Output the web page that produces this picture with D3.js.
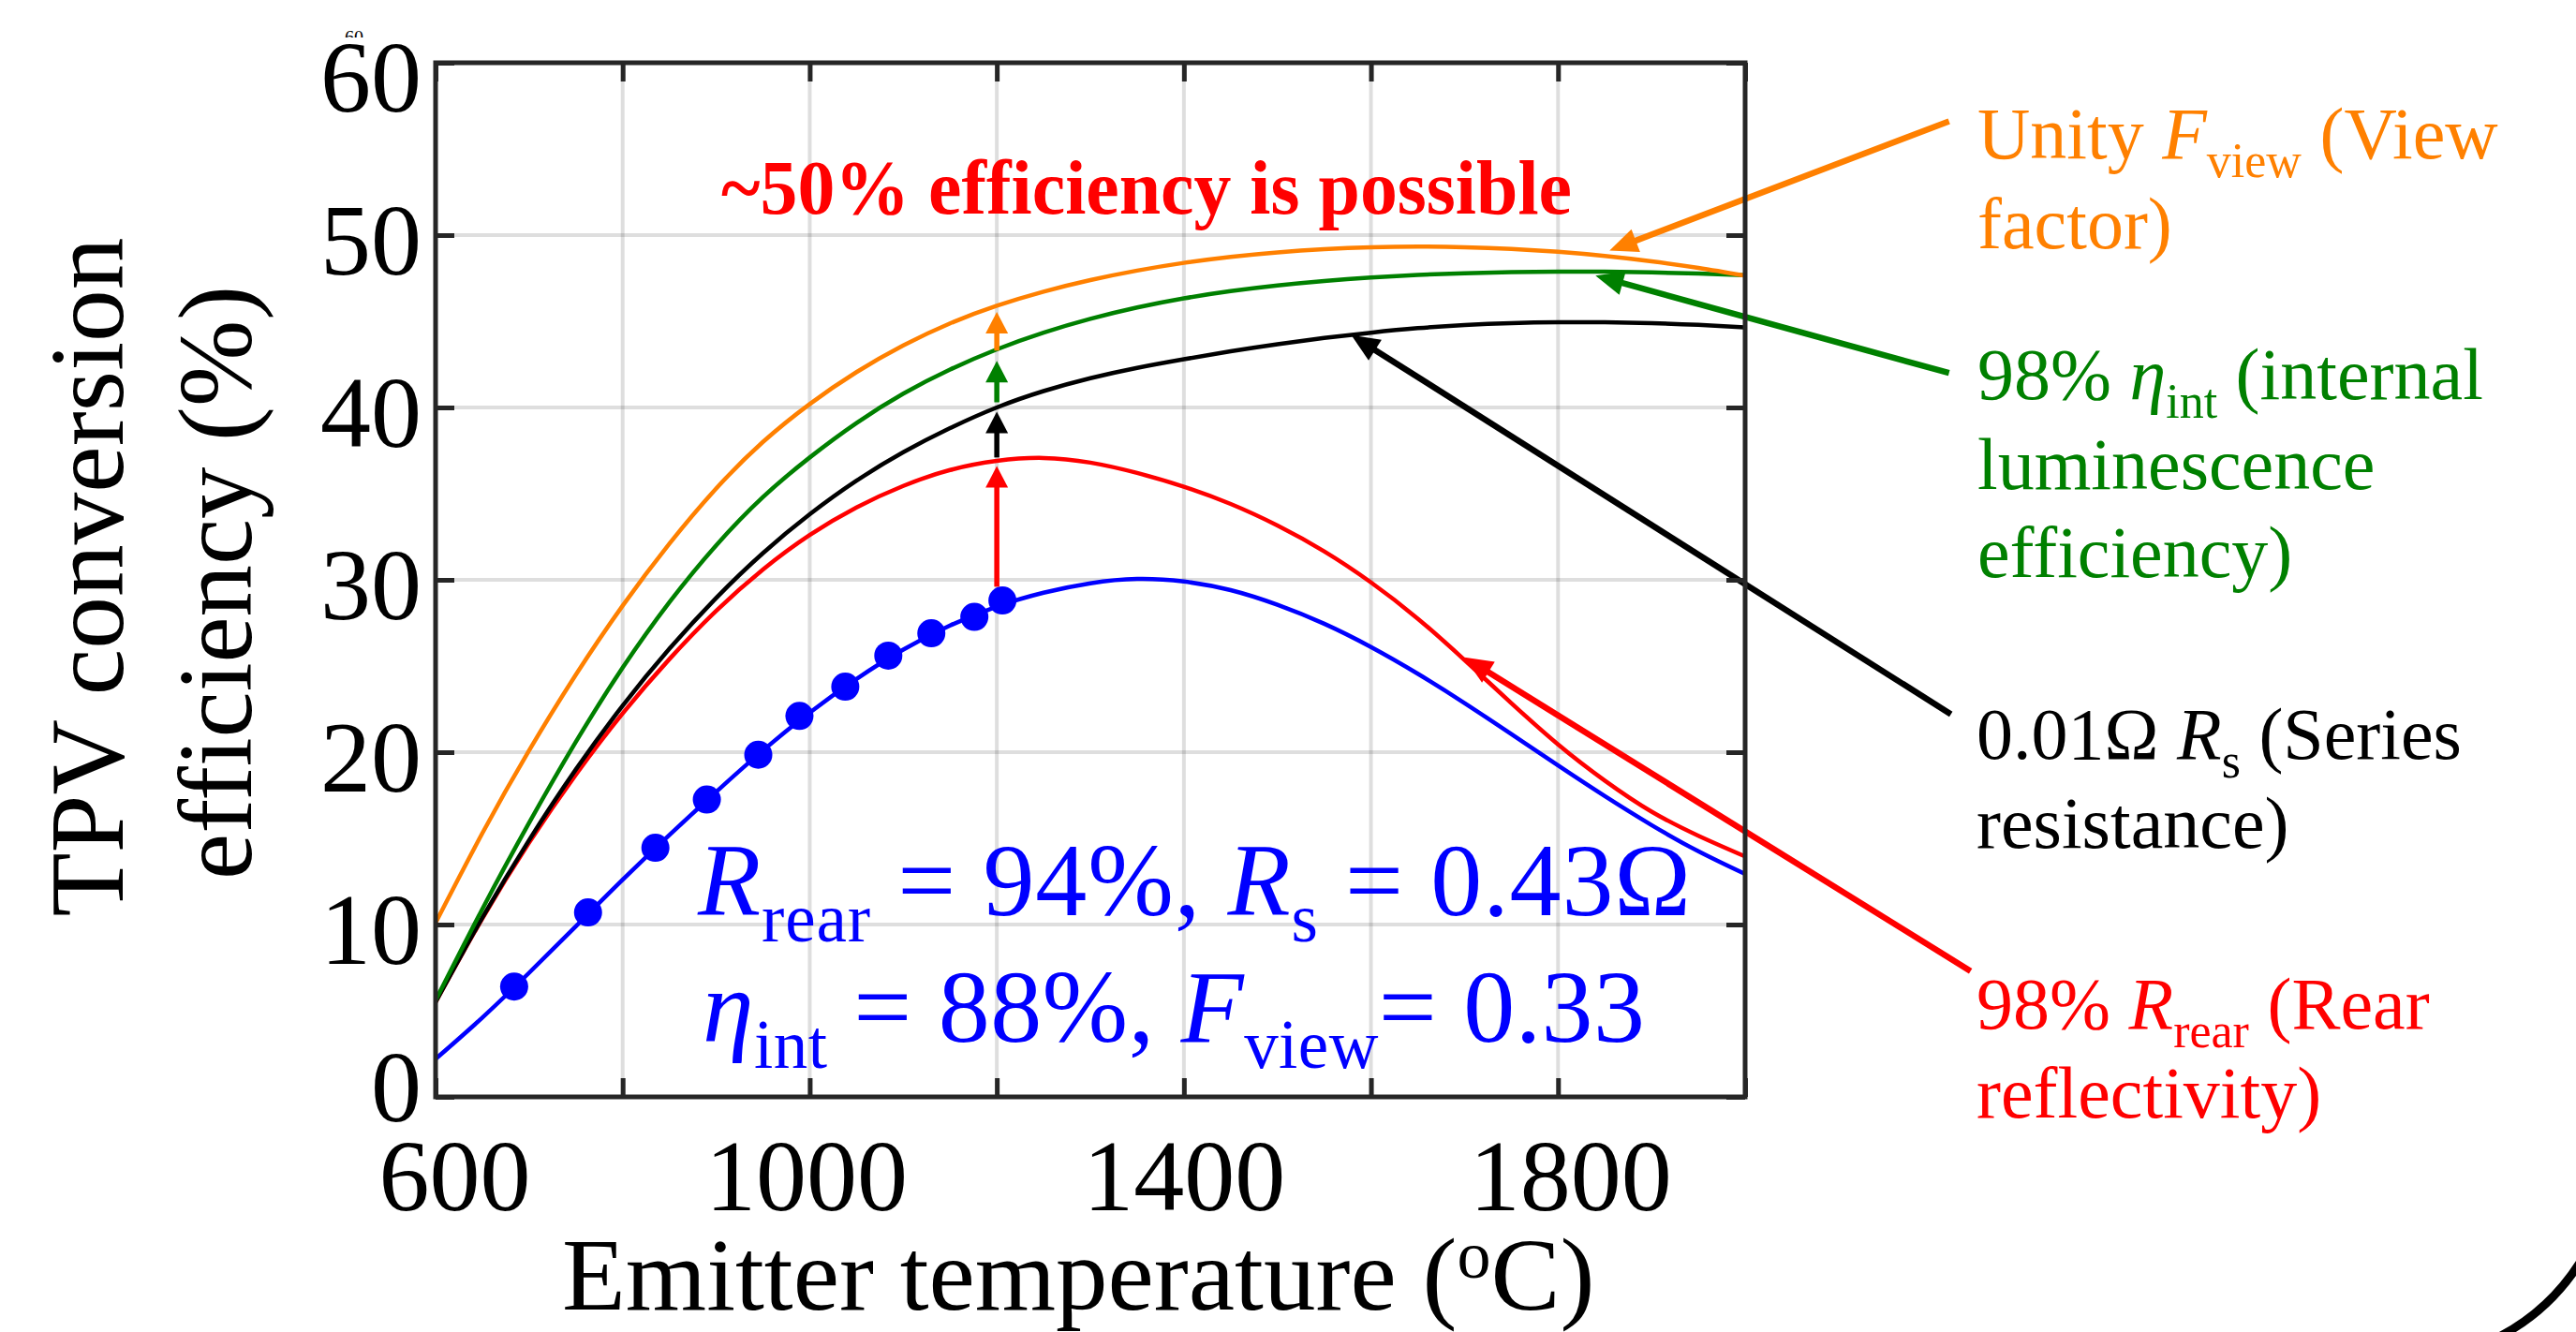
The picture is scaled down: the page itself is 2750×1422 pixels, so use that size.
<!DOCTYPE html>
<html>
<head>
<meta charset="utf-8">
<script src="https://cdn.jsdelivr.net/npm/d3@7"></script>
<style>
  html, body { margin: 0; padding: 0; background: #fff; }
  svg text { font-family: "Liberation Serif", "Times New Roman", serif; white-space: pre; }
</style>
</head>
<body>
<svg id="chart"></svg>
<script>
// ---- constants
const svgWidth = 2750, svgHeight = 1422;
const plot = {left: 465, right: 1863, top: 67, bottom: 1171};

const colors = {orange: "#ff8000", green: "#008000", black: "#000000", red: "#ff0000", blue: "#0000ff"};

// ---- data
const temps = [600, 650, 700, 750, 800, 850, 900, 950, 1000, 1050, 1100, 1150, 1200, 1250, 1300,
               1350, 1400, 1450, 1500, 1550, 1600, 1650, 1700, 1750, 1800, 1850, 1900, 1950, 2000];

const unityFview = [10.1, 15.3, 20.1, 24.5, 28.5, 32.1, 35.3, 38.0, 40.2, 42.05, 43.6, 44.88, 45.9, 46.72, 47.39,
                    47.94, 48.39, 48.74, 49.0, 49.18, 49.29, 49.33, 49.3, 49.2, 49.03, 48.79, 48.48, 48.1, 47.65];
const etaInt98   = [5.6, 10.9, 15.9, 20.6, 24.9, 28.7, 32.0, 34.8, 37.1, 39.1, 40.8, 42.2, 43.37, 44.34, 45.14,
                    45.8, 46.33, 46.75, 47.08, 47.34, 47.54, 47.69, 47.79, 47.85, 47.88, 47.88, 47.84, 47.77, 47.67];
const rs001      = [5.5, 10.4, 14.9, 19.0, 22.7, 26.0, 28.95, 31.55, 33.8, 35.75, 37.4, 38.8, 40.0, 40.95, 41.7,
                    42.3, 42.8, 43.26, 43.67, 44.03, 44.34, 44.6, 44.78, 44.89, 44.94, 44.94, 44.89, 44.79, 44.64];
const rRear98    = [5.5, 10.35, 14.75, 18.7, 22.25, 25.4, 28.2, 30.6, 32.6, 34.2, 35.45, 36.37, 36.9, 37.07, 36.8,
                    36.2, 35.4, 34.4, 33.15, 31.65, 29.85, 27.75, 25.35, 22.85, 20.45, 18.35, 16.55, 15.15, 13.95];
const baseline   = [2.2, 4.6, 7.2, 9.9, 12.6, 15.2, 17.7, 20.1, 22.3, 24.25, 25.95, 27.35, 28.45, 29.25, 29.8,
                    30.05, 29.9, 29.4, 28.55, 27.45, 26.1, 24.55, 22.85, 21.05, 19.23, 17.45, 15.77, 14.25, 12.93];

// measured points on the baseline device
const dotTemps = [684, 763, 835, 890, 945, 989, 1038, 1084, 1130, 1176, 1206];
const dotEff   = [6.4, 10.7, 14.45, 17.25, 19.85, 22.1, 23.8, 25.6, 26.9, 27.85, 28.8];

// step-up arrows at 1200 C: [from, to] in %
const stepTemp = 1200;
const stepFrom = [29.6, 37.1, 40.3, 43.3];
const stepTo   = [36.6, 39.75, 42.7, 45.55];
const stepColors = ["red", "black", "green", "orange"];

// callout arrows (temperature, efficiency), from label to curve
const calloutFrom = [[2218, 56.6], [2218, 42.0], [2220, 22.2], [2241, 7.3]];
const calloutTo   = [[1855, 49.1], [1840, 47.65], [1579, 44.2], [1700, 25.5]];
const calloutColors = ["orange", "green", "black", "red"];

const xTicks = [600, 800, 1000, 1200, 1400, 1600, 1800, 2000];
const xLabels = [600, 1000, 1400, 1800];
const yTicks = [0, 10, 20, 30, 40, 50, 60];

// ---- scales
const x = d3.scaleLinear().domain([600, 2000]).range([plot.left, plot.right]);
const y = d3.scaleLinear().domain([0, 60]).range([plot.bottom, plot.top]);

const svg = d3.select("#chart").attr("width", svgWidth).attr("height", svgHeight);

// grid
const grid = svg.append("g").attr("stroke", "#000").attr("stroke-opacity", 0.13).attr("stroke-width", 4);
grid.selectAll(".gx").data(xTicks.slice(1, -1)).enter().append("line")
    .attr("x1", d => x(d)).attr("x2", d => x(d)).attr("y1", plot.top).attr("y2", plot.bottom);
grid.selectAll(".gy").data(yTicks.slice(1, -1)).enter().append("line")
    .attr("y1", d => y(d)).attr("y2", d => y(d)).attr("x1", plot.left).attr("x2", plot.right);

// curves
const line = d3.line()
    .x(function(d){ return x(d[0]); })
    .y(function(d){ return y(d[1]); })
    .curve(d3.curveNatural);

const series = [
    {values: baseline, color: colors.blue},
    {values: rRear98, color: colors.red},
    {values: rs001, color: colors.black},
    {values: etaInt98, color: colors.green},
    {values: unityFview, color: colors.orange}
];
series.forEach(function(s){
    svg.append("path")
        .datum(temps.map((t, i) => [t, s.values[i]]))
        .attr("d", line)
        .attr("fill", "none")
        .attr("stroke", s.color)
        .attr("stroke-width", 4.5);
});

// dots
svg.append("g").selectAll("circle")
    .data(dotTemps.map((t, i) => [t, dotEff[i]]))
    .enter().append("circle")
    .attr("cx", d => x(d[0])).attr("cy", d => y(d[1]))
    .attr("r", 15).attr("fill", colors.blue);

// arrow helper (pixel coords)
function arrow(g, x0, y0, x1, y1, color, width, headLen, headW) {
    const dx = x1 - x0, dy = y1 - y0, len = Math.sqrt(dx * dx + dy * dy);
    const ux = dx / len, uy = dy / len;
    const bx = x1 - ux * headLen, by = y1 - uy * headLen;
    g.append("line").attr("x1", x0).attr("y1", y0).attr("x2", bx + ux * 2).attr("y2", by + uy * 2)
        .attr("stroke", color).attr("stroke-width", width);
    g.append("path")
        .attr("d", "M" + x1 + "," + y1 +
                   "L" + (bx - uy * headW / 2) + "," + (by + ux * headW / 2) +
                   "L" + (bx + uy * headW / 2) + "," + (by - ux * headW / 2) + "Z")
        .attr("fill", color);
}

const arrows = svg.append("g");
stepFrom.forEach(function(v, i){
    arrow(arrows, x(stepTemp), y(v), x(stepTemp), y(stepTo[i]), colors[stepColors[i]], 5.5, 23, 24);
});
calloutFrom.forEach(function(p, i){
    const q = calloutTo[i];
    arrow(arrows, x(p[0]), y(p[1]), x(q[0]), y(q[1]), colors[calloutColors[i]], 6.5, 30, 26);
});

// frame + inward ticks
const axisColor = "#262626";
function styleAxis(g) {
    g.select(".domain").remove();
    g.selectAll(".tick line").attr("stroke", axisColor).attr("stroke-width", 5);
}
const xAxisBottom = svg.append("g").attr("transform", "translate(0," + plot.bottom + ")")
    .call(d3.axisBottom(x).tickValues(xTicks).tickSizeInner(-20).tickSizeOuter(0)
        .tickFormat(d => xLabels.includes(d) ? d : ""));
styleAxis(xAxisBottom);
const xLabelDx = {600: 20, 1000: -4, 1400: 0, 1800: 13};
xAxisBottom.selectAll("text")
    .attr("y", 121).attr("dy", 0)
    .attr("dx", d => xLabelDx[d] || 0)
    .attr("fill", "#000").style("font-size", "108px");

svg.append("g").attr("transform", "translate(0," + plot.top + ")")
    .call(d3.axisTop(x).tickValues(xTicks).tickSizeInner(-20).tickSizeOuter(0).tickFormat(""))
    .call(styleAxis);

const yAxisLeft = svg.append("g").attr("transform", "translate(" + plot.left + ",0)")
    .call(d3.axisLeft(y).tickValues(yTicks).tickSizeInner(-20).tickSizeOuter(0));
styleAxis(yAxisLeft);
const yLabelDy = {0: 25, 60: 51};
yAxisLeft.selectAll("text")
    .attr("x", -15).attr("dy", 0)
    .attr("y", d => yLabelDy[d] !== undefined ? yLabelDy[d] : 41)
    .attr("fill", "#000").style("font-size", "108px");

svg.append("g").attr("transform", "translate(" + plot.right + ",0)")
    .call(d3.axisRight(y).tickValues(yTicks).tickSizeInner(-20).tickSizeOuter(0).tickFormat(""))
    .call(styleAxis);

svg.append("rect")
    .attr("x", plot.left).attr("y", plot.top)
    .attr("width", plot.right - plot.left).attr("height", plot.bottom - plot.top)
    .attr("fill", "none").attr("stroke", axisColor).attr("stroke-width", 5);

// tiny stray "60" above the top label
svg.append("clipPath").attr("id", "tinyclip").append("rect")
    .attr("x", 340).attr("y", 20).attr("width", 80).attr("height", 20);
svg.append("text").attr("x", 378).attr("y", 47).attr("text-anchor", "middle")
    .attr("clip-path", "url(#tinyclip)").style("font-size", "20px").text("60");

// rich text helper: parts {t, i: italic, sub, sup}
function richText(g, xPos, yPos, size, subSize, shift, parts, color) {
    const t = g.append("text").attr("x", xPos).attr("y", yPos)
        .attr("fill", color).style("font-size", size + "px");
    let cur = 0;
    parts.forEach(function(p){
        const target = p.sub ? shift : (p.sup ? -shift : 0);
        const ts = t.append("tspan").attr("dy", target - cur).text(p.t);
        cur = target;
        if (p.i) ts.style("font-style", "italic");
        if (p.sub || p.sup) ts.style("font-size", subSize + "px");
    });
    return t;
}

// axis titles
svg.append("text")
    .attr("transform", "translate(131,616) rotate(-90)")
    .attr("text-anchor", "middle").attr("textLength", 725).attr("lengthAdjust", "spacingAndGlyphs")
    .style("font-size", "112px").text("TPV conversion");
svg.append("text")
    .attr("transform", "translate(268,622) rotate(-90)")
    .attr("text-anchor", "middle").attr("textLength", 634).attr("lengthAdjust", "spacingAndGlyphs")
    .style("font-size", "112px").text("efficiency (%)");

richText(svg, 600, 1398, 111, 72, 34,
    [{t: "Emitter temperature ("}, {t: "o", sup: true}, {t: "C)"}], "#000");

// headline
svg.append("text").attr("x", 770).attr("y", 228)
    .attr("textLength", 908).attr("lengthAdjust", "spacingAndGlyphs")
    .attr("fill", colors.red).style("font-size", "82px").style("font-weight", "bold")
    .text("~50% efficiency is possible");

// parameters of the baseline device
richText(svg, 745, 977, 110, 73, 28,
    [{t: "R", i: true}, {t: "rear", sub: true}, {t: " = 94%, "}, {t: "R", i: true}, {t: "s", sub: true}, {t: " = 0.43Ω"}],
    colors.blue).attr("textLength", 1060);
richText(svg, 750, 1112, 110, 73, 28,
    [{t: "η", i: true}, {t: "int", sub: true}, {t: " = 88%, "}, {t: "F", i: true}, {t: "view", sub: true}, {t: "= 0.33"}],
    colors.blue).attr("textLength", 1006);

// callout labels
const labels = svg.append("g");
richText(labels, 2111, 169, 78, 52, 20,
    [{t: "Unity "}, {t: "F", i: true}, {t: "view", sub: true}, {t: " (View"}], colors.orange);
richText(labels, 2111, 265, 78, 52, 20, [{t: "factor)"}], colors.orange);

richText(labels, 2111, 426, 78, 52, 20,
    [{t: "98% "}, {t: "η", i: true}, {t: "int", sub: true}, {t: " (internal"}], colors.green);
richText(labels, 2111, 522, 78, 52, 20, [{t: "luminescence"}], colors.green);
richText(labels, 2111, 616, 78, 52, 20, [{t: "efficiency)"}], colors.green);

richText(labels, 2110, 810, 78, 52, 20,
    [{t: "0.01Ω "}, {t: "R", i: true}, {t: "s", sub: true}, {t: " (Series"}], colors.black);
richText(labels, 2110, 905, 78, 52, 20, [{t: "resistance)"}], colors.black);

richText(labels, 2110, 1098, 78, 52, 20,
    [{t: "98% "}, {t: "R", i: true}, {t: "rear", sub: true}, {t: " (Rear"}], colors.red);
richText(labels, 2110, 1193, 78, 52, 20, [{t: "reflectivity)"}], colors.red);

// stray arc in the bottom-right corner of the source image
svg.append("path")
    .attr("d", "M2670,1426 Q2722,1398 2754,1348")
    .attr("fill", "none").attr("stroke", "#000").attr("stroke-width", 9);
</script>
</body>
</html>
